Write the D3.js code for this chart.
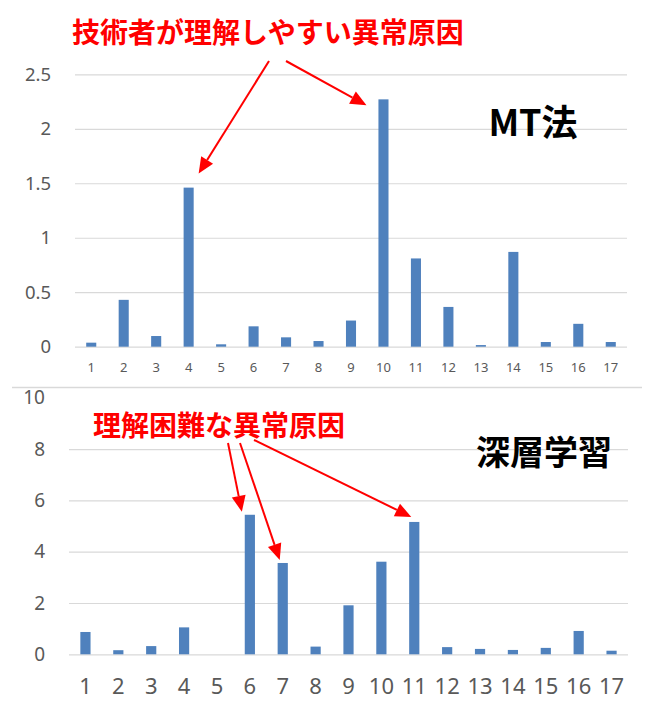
<!DOCTYPE html>
<html><head><meta charset="utf-8">
<script src="https://cdn.jsdelivr.net/npm/d3@7/dist/d3.min.js"></script>
<style>
html,body{margin:0;padding:0;background:#fff;}
svg{display:block;}
</style></head>
<body>
<svg id="chart" width="651" height="719"></svg>
<script>
const categories = ["1","2","3","4","5","6","7","8","9","10","11","12","13","14","15","16","17"];
const mtValues = [0.037, 0.43, 0.098, 1.46, 0.022, 0.187, 0.086, 0.052, 0.24, 2.27, 0.81, 0.365, 0.015, 0.87, 0.043, 0.21, 0.043];
const dlValues = [0.87, 0.16, 0.32, 1.05, 0, 5.44, 3.56, 0.30, 1.91, 3.61, 5.16, 0.28, 0.21, 0.17, 0.25, 0.91, 0.14];
const mtTicks = [0, 0.5, 1, 1.5, 2, 2.5];
const dlTicks = [0, 2, 4, 6, 8, 10];
const mtTitle = "MT法";
const dlTitle = "深層学習";
const mtNote = "技術者が理解しやすい異常原因";
const dlNote = "理解困難な異常原因";

const svg = d3.select("#chart");
const BAR = "#4F81BD", GRID = "#d9d9d9", TXT = "#595959", RED = "#ff0000";
const sans = "'Noto Sans', 'Open Sans', sans-serif";
const cjk = "'Noto Sans CJK JP', 'Noto Sans', sans-serif";

function panel(cfg) {
  const x = d3.scaleBand().domain(categories).range([cfg.x0, cfg.x1]).paddingInner(0.69).paddingOuter(0.345);
  const y = d3.scaleLinear().domain([0, cfg.max]).range([cfg.yb, cfg.yt]);
  const g = svg.append("g");
  const yAxis = d3.axisLeft(y).tickValues(cfg.ticks).tickSize(-(cfg.x1 - cfg.x0)).tickPadding(cfg.pad)
    .tickFormat(d => String(d));
  const ya = g.append("g").attr("transform", `translate(${cfg.x0},0)`).call(yAxis);
  ya.select(".domain").remove();
  ya.selectAll(".tick line").attr("stroke", GRID).attr("stroke-width", 1.2)
    .attr("opacity", d => (cfg.hideTop && d === cfg.max) ? 0 : 1);
  ya.selectAll(".tick text").attr("fill", TXT).style("font-family", sans).style("font-size", cfg.yfs + "px");
  const xAxis = d3.axisBottom(x).tickSize(0);
  const xa = g.append("g").attr("transform", `translate(0,${cfg.yb})`).call(xAxis);
  xa.select(".domain").remove();
  xa.selectAll(".tick text").attr("fill", TXT).attr("y", cfg.xoff).attr("dy", "0.35em")
    .style("font-family", sans).style("font-size", cfg.xfs + "px");
  g.append("g").selectAll("rect").data(cfg.values).join("rect")
    .attr("x", (d, i) => x(categories[i]))
    .attr("width", x.bandwidth())
    .attr("y", d => y(d))
    .attr("height", d => y(0) - y(d))
    .attr("fill", BAR);
  return {x, y};
}

function arrow(x1, y1, x2, y2) {
  const L = 16, W = 7;
  const a = Math.atan2(y2 - y1, x2 - x1);
  const bx = x2 - L * Math.cos(a), by = y2 - L * Math.sin(a);
  svg.append("line").attr("x1", x1).attr("y1", y1).attr("x2", bx).attr("y2", by)
    .attr("stroke", RED).attr("stroke-width", 2);
  const px = -Math.sin(a) * W, py = Math.cos(a) * W;
  svg.append("path").attr("d", `M${x2},${y2}L${bx + px},${by + py}L${bx - px},${by - py}Z`).attr("fill", RED);
}

svg.append("line").attr("x1", 12).attr("x2", 642).attr("y1", 387.5).attr("y2", 387.5)
  .attr("stroke", GRID).attr("stroke-width", 1.5);

const mtPanel = panel({x0: 75, x1: 627, yb: 346.7, yt: 74.3, max: 2.5, ticks: mtTicks, values: mtValues,
  pad: 24, yfs: 18.5, xfs: 13, xoff: 21});
const dlPanel = panel({x0: 69, x1: 628, yb: 654.3, yt: 397.8, max: 10, ticks: dlTicks, values: dlValues,
  pad: 24, yfs: 19, xfs: 22, xoff: 32.5, hideTop: true});

svg.append("text").attr("x", 533).attr("y", 123).attr("dy", "0.35em").attr("text-anchor", "middle")
  .style("font-family", cjk).style("font-weight", "bold").style("font-size", "36px").attr("fill", "#000").text(mtTitle);
svg.append("text").attr("x", 544).attr("y", 453.5).attr("dy", "0.35em").attr("text-anchor", "middle")
  .style("font-family", cjk).style("font-weight", "bold").style("font-size", "34px").attr("fill", "#000").text(dlTitle);

svg.append("text").attr("x", 72).attr("y", 33).attr("dy", "0.35em")
  .style("font-family", cjk).style("font-weight", "bold").style("font-size", "28px").attr("fill", RED).text(mtNote);
svg.append("text").attr("x", 93).attr("y", 426).attr("dy", "0.35em")
  .style("font-family", cjk).style("font-weight", "bold").style("font-size", "28px").attr("fill", RED).text(dlNote);

const cx = (s, c) => s.x(c) + s.x.bandwidth() / 2;
arrow(269, 61, cx(mtPanel, "4") + 10, mtPanel.y(mtValues[3]) - 14);
arrow(286, 61, cx(mtPanel, "10") - 17, mtPanel.y(mtValues[9]) + 6);
arrow(228, 443, cx(dlPanel, "6") - 8, dlPanel.y(dlValues[5]) - 3);
arrow(240, 443, cx(dlPanel, "7") - 3, dlPanel.y(dlValues[6]) - 3);
arrow(254, 440, cx(dlPanel, "11") - 3, dlPanel.y(dlValues[10]) - 5);
</script>
</body></html>
